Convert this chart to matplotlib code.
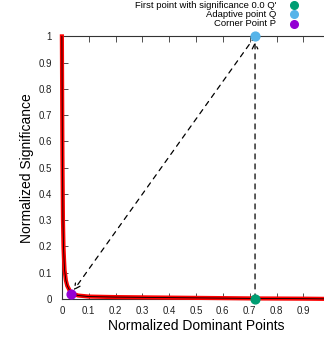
import matplotlib
matplotlib.use("Agg")
import matplotlib.pyplot as plt

plt.rcParams['font.family'] = ['Liberation Sans', 'DejaVu Sans']

# curve
curva_x = [0.0, 0.002, 0.004, 0.006, 0.008, 0.01, 0.015, 0.02, 0.03, 0.04, 0.06,
           0.1, 0.2, 0.3, 0.4, 0.5, 0.6, 0.7, 0.8, 0.9, 1.0]
curva_y = [1.0, 0.55, 0.3, 0.2, 0.15, 0.11, 0.07, 0.05, 0.03, 0.02, 0.013,
           0.009, 0.007, 0.006, 0.005, 0.004, 0.003, 0.002, 0.0015, 0.001, 0.0]

puntos_nombres = ["First point with significance 0.0 Q'", "Adaptive point Q", "Corner Point P"]
puntos_x = [0.72, 0.72, 0.035]
puntos_y = [0.0, 1.0, 0.02]
puntos_colores = ["#009e73", "#56b4e9", "#9400d3"]

x_ticks = [0, 0.1, 0.2, 0.3, 0.4, 0.5, 0.6, 0.7, 0.8, 0.9]
x_tick_labels = ["0", "0.1", "0.2", "0.3", "0.4", "0.5", "0.6", "0.7", "0.8", "0.9"]
y_ticks = [0, 0.1, 0.2, 0.3, 0.4, 0.5, 0.6, 0.7, 0.8, 0.9, 1.0]
y_tick_labels = ["0", "0.1", "0.2", "0.3", "0.4", "0.5", "0.6", "0.7", "0.8", "0.9", "1"]

fig = plt.figure(figsize=(3.24, 3.37), dpi=100)
ax = fig.add_axes([0.191, 0.113, 0.828, 0.779])
ax.set_xlim(0, 1)
ax.set_ylim(0, 1)

ax.plot(curva_x, curva_y, color="red", lw=3.0, zorder=3, clip_on=False)
ax.plot(curva_x, curva_y, color="black", lw=0.6, zorder=4, clip_on=False)

# flechas discontinuas
ax.annotate("", xy=(puntos_x[1], puntos_y[1]), xytext=(puntos_x[0], puntos_y[0]),
            arrowprops=dict(arrowstyle="->", ls=(0, (4, 4)), lw=0.9, color="black",
                            shrinkA=0, shrinkB=4), zorder=2)
ax.annotate("", xy=(puntos_x[2], puntos_y[2]), xytext=(puntos_x[1], puntos_y[1]),
            arrowprops=dict(arrowstyle="->", ls=(0, (4, 4)), lw=0.9, color="black",
                            shrinkA=0, shrinkB=3), zorder=2)

for nombre, px, py, c in zip(puntos_nombres, puntos_x, puntos_y, puntos_colores):
    ax.scatter([px], [py], s=40, color=c, zorder=6, clip_on=False, label=nombre)

ax.set_xticks(x_ticks)
ax.set_xticklabels(x_tick_labels)
ax.set_yticks(y_ticks)
ax.set_yticklabels(y_tick_labels)
ax.tick_params(direction="in", length=4, width=0.6, labelsize=7, top=True, right=True,
               colors="#333333", labelcolor="#222222")
ax.tick_params(axis="y", pad=7)
ax.tick_params(axis="x", pad=5)
for s in ax.spines.values():
    s.set_linewidth(0.8)
    s.set_color("#333333")

ax.set_xlabel("Normalized Dominant Points", fontsize=10, labelpad=2)
ax.set_ylabel("Normalized Significance", fontsize=10, labelpad=3)

# leyenda a mano, encima del eje
for i, (nombre, c) in enumerate(zip(puntos_nombres, puntos_colores)):
    yy = 0.985 - i * 0.028
    fig.text(0.852, yy, nombre, fontsize=6.8, ha="right", va="center")
    fig.add_artist(plt.Line2D([0.907], [yy], marker="o", color=c, markersize=5.5,
                              transform=fig.transFigure, ls="none"))

fig.savefig("out.png", dpi=100)
